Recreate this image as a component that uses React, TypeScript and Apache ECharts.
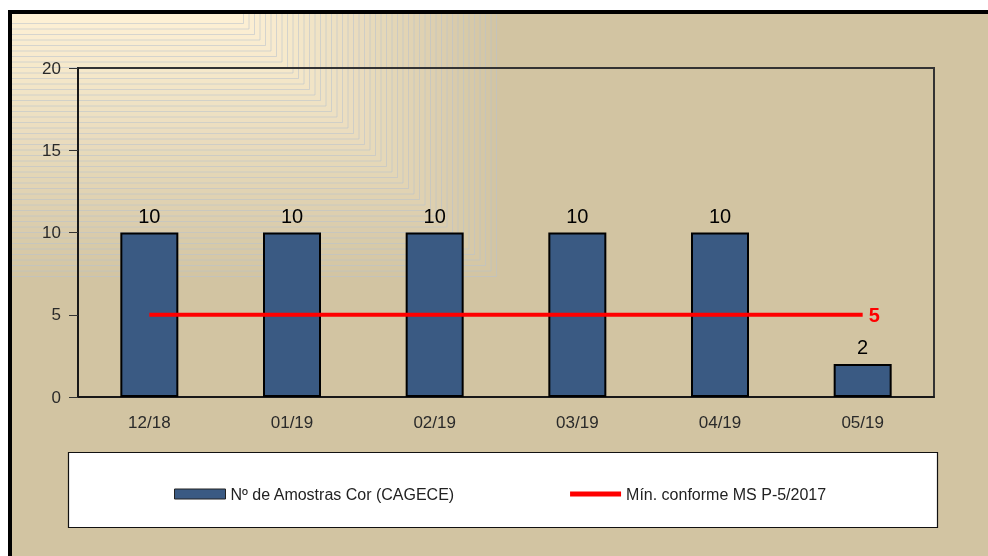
import React, { useEffect, useRef } from "react";
import * as echarts from "echarts";

const categories = ["12/18", "01/19", "02/19", "03/19", "04/19", "05/19"];
const samplesCount = [10, 10, 10, 10, 10, 2];
const minimumRequired = [5, 5, 5, 5, 5, 5];
const seriesNames = ["Nº de Amostras Cor (CAGECE)", "Mín. conforme MS P-5/2017"];
const yMin = 0;
const yMax = 20;
const yInterval = 5;

const FONT = "'Liberation Sans', Arial, sans-serif";

function mix(a: number[], b: number[], t: number) {
  const c = a.map((v, i) => Math.round(v + (b[i] - v) * t));
  return `rgb(${c[0]},${c[1]},${c[2]})`;
}

export default function App() {
  const ref = useRef<HTMLDivElement>(null);
  useEffect(() => {
    if (!ref.current) return;
    const chart = echarts.init(ref.current, undefined, { renderer: "svg" });

    const tan = [210, 196, 162];
    const cream = [253, 240, 212];
    const deco: any[] = [];
    const steps = 47;
    for (let i = 0; i <= steps; i++) {
      const t = i / steps;
      deco.push({
        type: "rect",
        z: -9,
        silent: true,
        shape: { x: 10, y: 12, width: 492 - i * 5.5, height: 270 - i * 5.5 },
        style: {
          fill: mix(tan, cream, t),
          stroke: i === 0 ? null : "rgba(185,194,204,0.7)",
          lineWidth: 0.8,
        },
      });
    }

    chart.setOption({
      animation: false,
      textStyle: { fontFamily: FONT },
      graphic: [
        {
          type: "rect",
          z: -10,
          silent: true,
          shape: { x: 10, y: 12, width: 1000, height: 600 },
          style: { fill: "rgb(210,196,162)" },
        },
        ...deco,
        {
          type: "rect",
          z: 1,
          silent: true,
          shape: { x: 68.5, y: 452.5, width: 869, height: 75 },
          style: { fill: "#ffffff", stroke: "#111", lineWidth: 1.2 },
        },
        {
          type: "rect",
          z: 50,
          silent: true,
          shape: { x: 10, y: 12, width: 1000, height: 600 },
          style: { fill: null, stroke: "#000", lineWidth: 4 },
        },
      ],
      grid: {
        left: 78,
        top: 68,
        width: 856,
        height: 329,
        show: true,
        borderColor: "#333",
        borderWidth: 2,
        backgroundColor: "transparent",
      },
      legend: {
        left: 169,
        top: 481,
        itemGap: 115,
        itemWidth: 51,
        itemHeight: 10,
        textStyle: { fontFamily: FONT, fontSize: 16, color: "#222" },
        data: [
          {
            name: seriesNames[0],
            icon: "rect",
            itemStyle: { borderWidth: 1, borderColor: "#222" },
          },
          {
            name: seriesNames[1],
            icon: "path://M0,0H51V5H0Z",
            itemStyle: { color: "#ff0000", borderWidth: 0 },
          },
        ],
      },
      xAxis: {
        type: "category",
        data: categories,
        axisLine: { lineStyle: { color: "#111", width: 1.5 } },
        axisTick: { length: 9, lineStyle: { color: "#111" } },
        axisLabel: { fontFamily: FONT, fontSize: 17, color: "#2a2a2a", margin: 17 },
        splitLine: { show: false },
      },
      yAxis: {
        type: "value",
        min: yMin,
        max: yMax,
        interval: yInterval,
        axisLine: { show: true, lineStyle: { color: "#111", width: 1.5 } },
        axisTick: { show: true, length: 9, lineStyle: { color: "#333" } },
        axisLabel: { fontFamily: FONT, fontSize: 17, color: "#2a2a2a", margin: 17 },
        splitLine: { show: false },
      },
      series: [
        {
          name: seriesNames[0],
          type: "bar",
          data: samplesCount,
          barWidth: 58,
          itemStyle: { color: "#3a5a83", borderColor: "#000", borderWidth: 2 },
          label: {
            show: true,
            position: "top",
            distance: 7,
            fontFamily: FONT,
            fontSize: 20,
            color: "#000",
          },
        },
        {
          name: seriesNames[1],
          type: "line",
          data: minimumRequired,
          symbol: "none",
          z: 3,
          lineStyle: { color: "#ff0000", width: 4 },
          itemStyle: { color: "#ff0000" },
          endLabel: {
            show: true,
            formatter: "{c}",
            distance: 6,
            fontFamily: FONT,
            fontSize: 20,
            fontWeight: "bold",
            color: "#ff0000",
          },
        },
      ],
    });
    return () => chart.dispose();
  }, []);
  return (
    <div
      ref={ref}
      style={{ position: "fixed", left: 0, top: 0, width: 988, height: 556 }}
    />
  );
}
